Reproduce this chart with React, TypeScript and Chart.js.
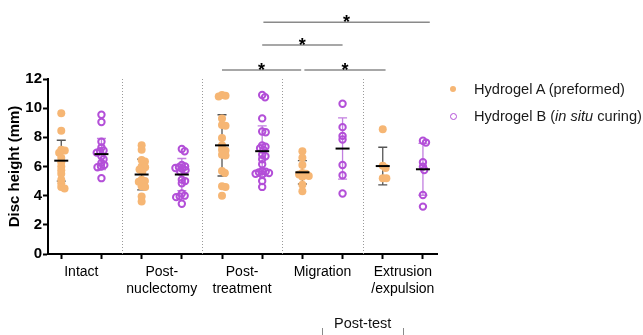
import React, { useEffect, useRef } from "react";
import { Chart, registerables } from "chart.js";

Chart.register(...registerables);

// ---- data ----
const groupLabels: string[][] = [
  ["Intact"],
  ["Post-", "nuclectomy"],
  ["Post-", "treatment"],
  ["Migration"],
  ["Extrusion", "/expulsion"],
];
const seriesNames = ["Hydrogel A (preformed)", "Hydrogel B (in situ curing)"];

const hydrogelA: number[][] = [
  [9.65, 8.45, 7.15, 7.1, 6.95, 6.6, 6.3, 6.0, 5.75, 5.5, 5.1, 4.85, 4.6, 4.5],
  [7.45, 7.15, 6.45, 6.35, 6.0, 5.95, 5.8, 5.65, 5.1, 5.0, 4.95, 4.65, 4.6, 3.95, 3.6],
  [10.9, 10.85, 10.8, 9.3, 8.85, 8.8, 7.95, 7.45, 7.15, 7.1, 6.8, 6.75, 5.7, 5.55, 4.65, 4.6, 4.0],
  [7.05, 6.6, 6.1, 5.55, 5.5, 5.45, 5.35, 5.3, 4.75, 4.3],
  [8.55, 6.05, 5.9, 5.2, 5.2],
];
const hydrogelB: number[][] = [
  [9.55, 9.05, 7.7, 7.3, 7.1, 7.05, 6.95, 6.7, 6.5, 6.25, 6.1, 6.0, 5.95, 5.2],
  [7.2, 7.05, 6.1, 6.0, 5.95, 5.9, 5.85, 5.75, 5.65, 5.1, 5.0, 4.85, 4.15, 4.0, 3.95, 3.9, 3.45],
  [10.9, 10.75, 9.3, 8.4, 8.35, 7.45, 7.35, 7.25, 7.15, 6.8, 6.7, 6.5, 6.15, 5.7, 5.65, 5.6, 5.55, 5.5, 5.45, 5.0, 4.6],
  [10.3, 8.7, 8.1, 7.85, 6.1, 5.4, 4.15],
  [7.77, 7.64, 6.29, 5.99, 5.76, 4.05, 3.25],
];
const meanA = [6.4, 5.45, 7.45, 5.6, 6.03];
const sdA = [1.4, 1.05, 2.1, 0.8, 1.29];
const meanB = [6.85, 5.45, 7.05, 7.23, 5.81];
const sdB = [1.07, 1.1, 1.73, 2.1, 1.78];

// significance brackets: [fromX, toX, tier]
const sigBrackets: number[][] = [
  [4.0, 5.97, 0],
  [6.05, 8.07, 0],
  [5.0, 7.0, 1],
  [5.03, 9.17, 2],
];
const sigTierValues = [12.62, 14.33, 15.9];
const sigLabel = "*";
const postTestLabel = "Post-test";
const postTestGroups = [3, 4];

const yTitle = "Disc height (mm)";
const yMin = 0;
const yMax = 12;
const yStep = 2;

// ---- styling / layout ----
const FONT = "'Liberation Sans', Arial, sans-serif";
const ORANGE = "#F6B674";
const PURPLE = "#B34FD8";
const W = 643;
const H = 335;
const X_MIN = -0.33;
const X_MAX = 9.35;
const PAD_TOP = 79;
const PAD_RIGHT = 206;
const Y_AXIS_W = 48;
const X_AXIS_H = 81;
const X_PX = (W - PAD_RIGHT - Y_AXIS_W) / (X_MAX - X_MIN);
const Y_PX = (H - X_AXIS_H - PAD_TOP) / (yMax - yMin);

// beeswarm layout for jittered points (pixel-space collision avoidance)
function swarm(values: number[], D: number): number[] {
  const placed: { x: number; y: number }[] = [];
  const out: number[] = [];
  for (const v of values) {
    const y = v * Y_PX;
    const cands = [0];
    for (const p of placed) {
      const dy = y - p.y;
      if (Math.abs(dy) < D) {
        const dx = Math.sqrt(D * D - dy * dy);
        cands.push(p.x + dx, p.x - dx);
      }
    }
    const ok = cands.filter((c) =>
      placed.every((q) => (c - q.x) ** 2 + (y - q.y) ** 2 >= D * D - 1e-6)
    );
    ok.sort((a, b) => Math.abs(a) - Math.abs(b));
    const x = ok.length ? ok[0] : 0;
    placed.push({ x, y });
    out.push(x / X_PX);
  }
  return out;
}

function buildPoints(groups: number[][], seriesIdx: number) {
  const pts: { x: number; y: number }[] = [];
  groups.forEach((vals, g) => {
    const center = g * 2 + seriesIdx;
    const offs = swarm(vals, 3.6);
    vals.forEach((v, i) => pts.push({ x: center + offs[i], y: v }));
  });
  return pts;
}

const tickValues: number[] = [];
for (let i = 0; i <= (groupLabels.length * 2 - 1) * 2; i++) tickValues.push(i / 2);

const overlayPlugin = {
  id: "overlay",
  beforeDatasetsDraw(chart: any) {
    const { ctx, chartArea, scales } = chart;
    const xs = scales.x;
    const ys = scales.y;
    ctx.save();
    // dotted separators between groups
    ctx.strokeStyle = "#9a9a9a";
    ctx.lineWidth = 1;
    ctx.setLineDash([1, 2]);
    for (let g = 1; g < groupLabels.length; g++) {
      const x = Math.round(xs.getPixelForValue(g * 2 - 0.5)) + 0.5;
      ctx.beginPath();
      ctx.moveTo(x, chartArea.top);
      ctx.lineTo(x, chartArea.bottom);
      ctx.stroke();
    }
    ctx.setLineDash([]);
    // error bars (SD)
    const drawErr = (means: number[], sds: number[], s: number, color: string) => {
      ctx.strokeStyle = color;
      ctx.lineWidth = 1.3;
      means.forEach((m, g) => {
        const x = xs.getPixelForValue(g * 2 + s);
        const yt = ys.getPixelForValue(m + sds[g]);
        const yb = ys.getPixelForValue(m - sds[g]);
        ctx.beginPath();
        ctx.moveTo(x, yt);
        ctx.lineTo(x, yb);
        ctx.moveTo(x - 4.5, yt);
        ctx.lineTo(x + 4.5, yt);
        ctx.moveTo(x - 4.5, yb);
        ctx.lineTo(x + 4.5, yb);
        ctx.stroke();
      });
    };
    drawErr(meanA, sdA, 0, "#555555");
    drawErr(meanB, sdB, 1, "#C27FE0");
    ctx.restore();
  },
  afterDatasetsDraw(chart: any) {
    const { ctx, chartArea, scales } = chart;
    const xs = scales.x;
    const ys = scales.y;
    ctx.save();
    // mean lines
    ctx.strokeStyle = "#000";
    ctx.lineWidth = 2;
    const drawMean = (means: number[], s: number) => {
      means.forEach((m, g) => {
        const x = xs.getPixelForValue(g * 2 + s);
        const y = ys.getPixelForValue(m);
        ctx.beginPath();
        ctx.moveTo(x - 7, y);
        ctx.lineTo(x + 7, y);
        ctx.stroke();
      });
    };
    drawMean(meanA, 0);
    drawMean(meanB, 1);
    // significance brackets
    ctx.strokeStyle = "#8a8a8a";
    ctx.lineWidth = 1.5;
    ctx.fillStyle = "#000";
    ctx.font = `bold 18px ${FONT}`;
    ctx.textAlign = "center";
    ctx.textBaseline = "alphabetic";
    sigBrackets.forEach(([a, b, tier]) => {
      const x1 = xs.getPixelForValue(a);
      const x2 = xs.getPixelForValue(b);
      const y = ys.getPixelForValue(sigTierValues[tier]);
      ctx.beginPath();
      ctx.moveTo(x1, y);
      ctx.lineTo(x2, y);
      ctx.stroke();
      ctx.fillText(sigLabel, (x1 + x2) / 2, y + 6);
    });
    // Post-test group label
    const g0 = postTestGroups[0] * 2 + 0.5;
    const g1 = postTestGroups[1] * 2 + 0.5;
    const px0 = xs.getPixelForValue(g0);
    const px1 = xs.getPixelForValue(g1);
    ctx.font = `14.5px ${FONT}`;
    ctx.textBaseline = "middle";
    ctx.fillStyle = "#111";
    ctx.fillText(postTestLabel, (px0 + px1) / 2, chartArea.bottom + 70);
    ctx.strokeStyle = "#8a8a8a";
    ctx.lineWidth = 1;
    [px0, px1].forEach((px) => {
      const x = Math.round(px) + 0.5;
      ctx.beginPath();
      ctx.moveTo(x, chartArea.bottom + 74);
      ctx.lineTo(x, chartArea.bottom + 90);
      ctx.stroke();
    });
    ctx.restore();
  },
};

export default function App() {
  const ref = useRef<HTMLCanvasElement>(null);
  useEffect(() => {
    if (!ref.current) return;
    const chart = new Chart(ref.current, {
      type: "scatter",
      data: {
        datasets: [
          {
            label: seriesNames[0],
            data: buildPoints(hydrogelA, 0),
            backgroundColor: ORANGE,
            borderColor: ORANGE,
            borderWidth: 0,
            pointRadius: 4,
          },
          {
            label: seriesNames[1],
            data: buildPoints(hydrogelB, 1),
            backgroundColor: "rgba(0,0,0,0)",
            borderColor: PURPLE,
            borderWidth: 2,
            pointRadius: 3.2,
          },
        ],
      },
      options: {
        responsive: false,
        animation: false,
        layout: { padding: { top: PAD_TOP, right: PAD_RIGHT, bottom: 0, left: 0 } },
        plugins: { legend: { display: false }, tooltip: { enabled: false } },
        scales: {
          x: {
            type: "linear",
            min: X_MIN,
            max: X_MAX,
            afterBuildTicks: (s: any) => {
              s.ticks = tickValues.map((v) => ({ value: v }));
            },
            afterFit: (s: any) => {
              s.height = X_AXIS_H;
            },
            grid: {
              drawOnChartArea: false,
              tickLength: 5,
              tickWidth: 2,
              color: (c: any) =>
                c.tick && Number.isInteger(c.tick.value) ? "#000" : "rgba(0,0,0,0)",
              tickColor: (c: any) =>
                c.tick && Number.isInteger(c.tick.value) ? "#000" : "rgba(0,0,0,0)",
            },
            border: { color: "#000", width: 2 },
            ticks: {
              autoSkip: false,
              maxRotation: 0,
              minRotation: 0,
              padding: 5,
              color: "#000",
              font: { family: FONT, size: 14, lineHeight: 1.2 },
              callback: (v: any) => {
                const k = (Number(v) - 0.5) / 2;
                if (Number.isInteger(k) && k >= 0 && k < groupLabels.length) return groupLabels[k];
                return "";
              },
            },
          },
          y: {
            min: yMin,
            max: yMax,
            afterFit: (s: any) => {
              s.width = Y_AXIS_W;
            },
            grid: { drawOnChartArea: false, tickLength: 5, tickWidth: 2, tickColor: "#000" },
            border: { color: "#000", width: 2 },
            ticks: {
              stepSize: yStep,
              padding: 1,
              color: "#000",
              font: { family: FONT, size: 15, weight: "bold" },
            },
            title: {
              display: true,
              text: yTitle,
              color: "#000",
              font: { family: FONT, size: 15, weight: "bold" },
              padding: { top: 6, bottom: 0 },
            },
          },
        },
      },
      plugins: [overlayPlugin],
    } as any);
    return () => chart.destroy();
  }, []);

  const legendText: React.CSSProperties = {
    position: "absolute",
    left: 474,
    fontFamily: FONT,
    fontSize: 14.6,
    lineHeight: "18px",
    color: "#1a1a1a",
    whiteSpace: "nowrap",
  };
  return (
    <div style={{ position: "absolute", left: 0, top: 0, width: W, height: H, background: "#fff" }}>
      <canvas ref={ref} width={W} height={H} style={{ width: W, height: H, display: "block" }} />
      <div
        style={{
          position: "absolute",
          left: 450,
          top: 86,
          width: 6,
          height: 6,
          borderRadius: "50%",
          background: ORANGE,
        }}
      />
      <div style={{ ...legendText, top: 80 }}>{seriesNames[0]}</div>
      <div
        style={{
          position: "absolute",
          left: 450,
          top: 113,
          width: 7,
          height: 7,
          borderRadius: "50%",
          boxSizing: "border-box",
          border: `1.6px solid ${PURPLE}`,
        }}
      />
      <div style={{ ...legendText, top: 107 }}>
        Hydrogel B (<i>in situ</i> curing)
      </div>
    </div>
  );
}
